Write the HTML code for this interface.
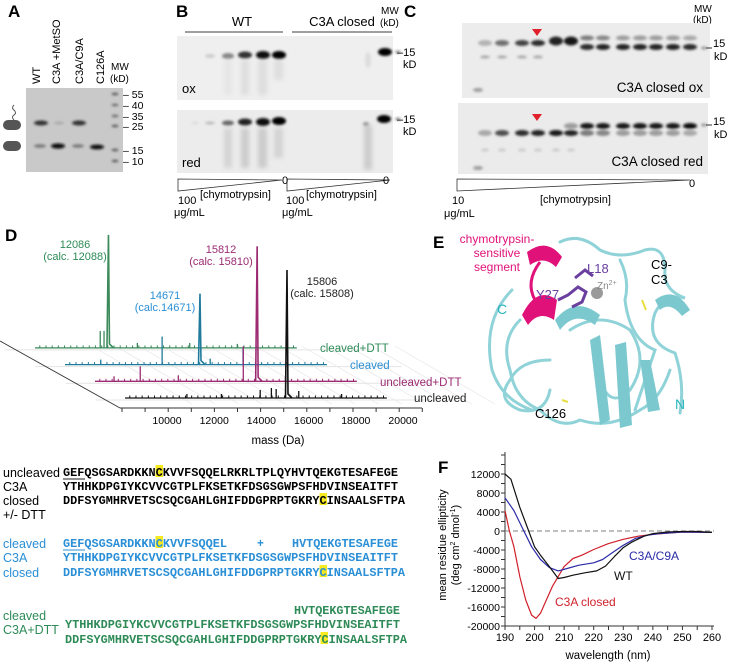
<!DOCTYPE html>
<html><head><meta charset="utf-8"><style>
html,body{margin:0;padding:0;background:#fff;}
svg{display:block;font-family:"Liberation Sans",sans-serif;}
.seq{font-family:"Liberation Mono",monospace;font-weight:bold;font-size:11.5px;}
</style></head><body>
<svg id="fig" width="740" height="664" viewBox="0 0 740 664" xmlns="http://www.w3.org/2000/svg">
<defs>
<filter id="bl" x="-50%" y="-100%" width="200%" height="300%"><feGaussianBlur stdDeviation="1.2"/></filter>
<filter id="bl2" x="-50%" y="-50%" width="200%" height="200%"><feGaussianBlur stdDeviation="2.5"/></filter>
</defs>

<!-- Panel A -->
<g>
<text x="8" y="17" font-size="17" font-weight="bold">A</text>
<g font-size="11">
<text transform="translate(40,84) rotate(-90)">WT</text>
<text transform="translate(60,84) rotate(-90)">C3A +MetSO</text>
<text transform="translate(83,84) rotate(-90)">C3A/C9A</text>
<text transform="translate(104,84) rotate(-90)">C126A</text>
<text x="111" y="70" font-size="10">MW</text>
<text x="110" y="82" font-size="10">(kD)</text>
</g>
<rect x="26" y="88" width="97" height="84" fill="#c9c9c9"/>
<g filter="url(#bl)">
<ellipse cx="41" cy="123" rx="7" ry="2.5" fill="#333"/>
<ellipse cx="79" cy="123" rx="7" ry="2.5" fill="#333"/>
<ellipse cx="59" cy="123" rx="5" ry="1.5" fill="#aaa"/>
<ellipse cx="40" cy="146" rx="6" ry="1.8" fill="#777"/>
<ellipse cx="58" cy="146" rx="7" ry="2.6" fill="#111"/>
<ellipse cx="78" cy="146" rx="6" ry="1.8" fill="#777"/>
<ellipse cx="97" cy="147" rx="7" ry="2.4" fill="#111"/>
<ellipse cx="115" cy="94" rx="3.5" ry="1.3" fill="#555"/>
<ellipse cx="115" cy="105" rx="3.5" ry="1.3" fill="#666"/>
<ellipse cx="115" cy="116" rx="3.5" ry="1.3" fill="#666"/>
<ellipse cx="115" cy="126" rx="3.5" ry="1.3" fill="#555"/>
<ellipse cx="115" cy="150" rx="3.5" ry="1.3" fill="#555"/>
<ellipse cx="115" cy="161" rx="3.5" ry="1.3" fill="#555"/>
</g>
<g font-size="10.5">
<text x="123" y="98">– 55</text><text x="123" y="109">– 40</text><text x="123" y="120">– 35</text>
<text x="123" y="130">– 25</text><text x="123" y="154">– 15</text><text x="123" y="165">– 10</text>
</g>
<g>
<rect x="3" y="120" width="18" height="10" rx="5" fill="#555"/>
<path d="M14,120 q-3,-3 0,-5 q3,-2 0,-5 q-3,-2 0,-5" stroke="#555" fill="none" stroke-width="1"/>
<rect x="3" y="141" width="18" height="10" rx="5" fill="#555"/>
</g>
</g>

<!-- Panel B -->
<g>
<text x="176" y="17" font-size="17" font-weight="bold">B</text>
<text x="242" y="26" font-size="13" text-anchor="middle">WT</text>
<line x1="185" y1="32" x2="283" y2="32" stroke="#666" stroke-width="1.2"/>
<text x="342" y="26" font-size="13" text-anchor="middle">C3A closed</text>
<line x1="292" y1="32" x2="392" y2="32" stroke="#666" stroke-width="1.2"/>
<text x="381" y="14" font-size="10">MW</text><text x="380" y="26" font-size="10">(kD)</text>
<rect x="177" y="36" width="216" height="64" fill="#efefef"/>
<rect x="177" y="110" width="216" height="63" fill="#ececec"/>
<g filter="url(#bl)">
<ellipse cx="210" cy="56" rx="5" ry="2" fill="#ccc"/>
<ellipse cx="228" cy="56" rx="6" ry="3" fill="#888"/>
<ellipse cx="245" cy="55" rx="7" ry="3.5" fill="#333"/>
<ellipse cx="263" cy="55" rx="7" ry="4" fill="#111"/>
<ellipse cx="279" cy="55" rx="7" ry="4" fill="#000"/>
<ellipse cx="385" cy="52" rx="7" ry="4" fill="#000"/>
<ellipse cx="368" cy="60" rx="3" ry="8" fill="#ddd"/>
<ellipse cx="398" cy="52" rx="3" ry="1.5" fill="#888"/>
<ellipse cx="195" cy="123" rx="4" ry="1.5" fill="#ddd"/>
<ellipse cx="210" cy="123" rx="5" ry="1.5" fill="#bbb"/>
<ellipse cx="228" cy="123" rx="6" ry="2.5" fill="#666"/>
<ellipse cx="245" cy="122" rx="7" ry="3.5" fill="#222"/>
<ellipse cx="263" cy="122" rx="7" ry="4" fill="#111"/>
<ellipse cx="279" cy="121" rx="7" ry="4" fill="#000"/>
<ellipse cx="384" cy="119" rx="7" ry="4" fill="#000"/>
<ellipse cx="366" cy="124" rx="3" ry="2" fill="#999"/>
<ellipse cx="398" cy="119" rx="3" ry="1.5" fill="#888"/>
</g>
<g filter="url(#bl2)" opacity="0.5">
<rect x="224" y="60" width="8" height="35" fill="#ddd"/><rect x="241" y="60" width="8" height="35" fill="#ccc"/>
<rect x="258" y="60" width="9" height="35" fill="#ccc"/><rect x="274" y="60" width="9" height="20" fill="#ccc"/>
<rect x="224" y="128" width="8" height="40" fill="#bbb"/><rect x="241" y="128" width="8" height="40" fill="#aaa"/>
<rect x="258" y="128" width="9" height="40" fill="#aaa"/><rect x="274" y="128" width="9" height="30" fill="#bbb"/>
<rect x="364" y="125" width="8" height="45" fill="#aaa"/>
</g>
<text x="182" y="93" font-size="13">ox</text>
<text x="182" y="167" font-size="13">red</text>
<g font-size="11"><text x="397" y="56">–15</text><text x="403" y="68">kD</text>
<text x="397" y="123">–15</text><text x="403" y="135">kD</text></g>
<path d="M178,179 L178,191 L282,180 Z" fill="none" stroke="#333" stroke-width="0.8"/>
<path d="M287,179 L287,191 L390,180 Z" fill="none" stroke="#333" stroke-width="0.8"/>
<g font-size="11">
<text x="282" y="184">0</text><text x="383" y="184">0</text>
<text x="178" y="204">100</text><text x="174" y="216">μg/mL</text>
<text x="200" y="198">[chymotrypsin]</text>
<text x="286" y="204">100</text><text x="282" y="216">μg/mL</text>
<text x="306" y="198">[chymotrypsin]</text></g>
</g>

<!-- Panel C -->
<g>
<text x="404" y="17" font-size="17" font-weight="bold">C</text>
<text x="694" y="12" font-size="10">MW</text><text x="693" y="23" font-size="10">(kD)</text>
<rect x="462" y="23" width="248" height="75" fill="#ececec"/>
<rect x="458" y="103" width="250" height="71" fill="#ebebeb"/>
<g filter="url(#bl)" id="gelc"></g>
<polygon points="532,29 542,29 537,36" fill="#e0202a"/>
<polygon points="532,114 542,114 537,121" fill="#e0202a"/>
<text x="703" y="92" font-size="13.5" text-anchor="end">C3A closed ox</text>
<text x="703" y="166" font-size="13.5" text-anchor="end">C3A closed red</text>
<g font-size="11"><text x="713" y="47">15</text><text x="714" y="60">kD</text>
<text x="713" y="125">15</text><text x="714" y="138">kD</text>
<line x1="706" y1="48" x2="712" y2="48" stroke="#333"/><line x1="706" y1="125" x2="712" y2="125" stroke="#333"/></g>
<path d="M457,179 L457,191 L690,180 Z" fill="none" stroke="#333" stroke-width="0.8"/>
<g font-size="11"><text x="689" y="187">0</text><text x="452" y="204">10</text><text x="444" y="217">μg/mL</text>
<text x="540" y="203">[chymotrypsin]</text></g>
</g>

<!-- Panel D -->
<g>
<text x="5" y="241" font-size="17" font-weight="bold">D</text>
<g id="floor" stroke="#ddd" stroke-width="0.7"></g>
<line x1="0" y1="341" x2="120" y2="408" stroke="#333" stroke-width="0.9"/>
<g id="spectra"></g>
<g id="massaxis"></g>
<text x="278" y="444" font-size="11.5" text-anchor="middle">mass (Da)</text>
<g font-size="11" text-anchor="middle">
<text x="75" y="248" fill="#2e8b57">12086</text><text x="75" y="260" fill="#2e8b57">(calc. 12088)</text>
<text x="165" y="299" fill="#2a8fd6">14671</text><text x="165" y="311" fill="#2a8fd6">(calc.14671)</text>
<text x="221" y="253" fill="#9c2b73">15812</text><text x="221" y="265" fill="#9c2b73">(calc. 15810)</text>
<text x="322" y="285" fill="#222">15806</text><text x="322" y="297" fill="#222">(calc. 15808)</text>
</g>
<g font-size="11.5">
<text x="320" y="352" fill="#2e8b57">cleaved+DTT</text>
<text x="350" y="369" fill="#2a8fd6">cleaved</text>
<text x="380" y="386" fill="#9c2b73">uncleaved+DTT</text>
<text x="414" y="402" fill="#222">uncleaved</text>
</g>
</g>

<!-- Sequences -->
<g>
<rect x="155.5" y="465" width="7.5" height="12" fill="#f5ea20"/>
<rect x="319.5" y="493" width="7.5" height="12" fill="#f5ea20"/>
<rect x="155.5" y="536" width="7.5" height="12" fill="#f5ea20"/>
<rect x="319.5" y="565" width="7.5" height="12" fill="#f5ea20"/>
<rect x="320.5" y="632" width="7.5" height="12" fill="#f5ea20"/>
<g font-size="12.5">
<text x="3" y="477">uncleaved</text><text x="3" y="491">C3A</text><text x="3" y="505">closed</text><text x="3" y="519">+/- DTT</text>
<g fill="#2a8fd6"><text x="3" y="548">cleaved</text><text x="3" y="562">C3A</text><text x="3" y="577">closed</text></g>
<g fill="#2e8b57"><text x="3" y="620">cleaved</text><text x="3" y="634">C3A+DTT</text></g>
</g>
<g class="seq">
<text x="63" y="476" textLength="335" lengthAdjust="spacingAndGlyphs">GEFQSGSARDKKNCKVVFSQQELRKRLTPLQYHVTQEKGTESAFEGE</text>
<text x="63" y="490" textLength="335" lengthAdjust="spacingAndGlyphs">YTHHKDPGIYKCVVCGTPLFKSETKFDSGSGWPSFHDVINSEAITFT</text>
<text x="63" y="504" textLength="342" lengthAdjust="spacingAndGlyphs">DDFSYGMHRVETSCSQCGAHLGHIFDDGPRPTGKRYCINSAALSFTPA</text>
<g fill="#2a8fd6">
<text x="63" y="547" textLength="164" lengthAdjust="spacingAndGlyphs">GEFQSGSARDKKNCKVVFSQQEL</text>
<text x="257" y="547">+</text>
<text x="292" y="547" textLength="106" lengthAdjust="spacingAndGlyphs">HVTQEKGTESAFEGE</text>
<text x="63" y="561" textLength="335" lengthAdjust="spacingAndGlyphs">YTHHKDPGIYKCVVCGTPLFKSETKFDSGSGWPSFHDVINSEAITFT</text>
<text x="63" y="576" textLength="342" lengthAdjust="spacingAndGlyphs">DDFSYGMHRVETSCSQCGAHLGHIFDDGPRPTGKRYCINSAALSFTPA</text></g>
<g fill="#2e8b57">
<text x="294" y="614" textLength="106" lengthAdjust="spacingAndGlyphs">HVTQEKGTESAFEGE</text>
<text x="65" y="628" textLength="335" lengthAdjust="spacingAndGlyphs">YTHHKDPGIYKCVVCGTPLFKSETKFDSGSGWPSFHDVINSEAITFT</text>
<text x="65" y="643" textLength="342" lengthAdjust="spacingAndGlyphs">DDFSYGMHRVETSCSQCGAHLGHIFDDGPRPTGKRYCINSAALSFTPA</text></g>
</g>
<line x1="63" y1="479" x2="85" y2="479" stroke="#222" stroke-width="1"/>
<line x1="63" y1="550" x2="85" y2="550" stroke="#2a8fd6" stroke-width="1"/>
</g>

<!-- Panel E -->
<g>
<text x="433" y="248" font-size="17" font-weight="bold">E</text>
<g font-size="12" fill="#e0127a" text-anchor="middle"><text x="497" y="243">chymotrypsin-</text><text x="497" y="257">sensitive</text><text x="497" y="271">segment</text></g>
<g fill="none" stroke="#8fd3d8" stroke-width="3" stroke-linecap="round">
<path d="M560,242 q20,-10 40,8 q20,10 45,0 q20,-5 20,20 q-2,20 20,28 q-20,-5 -30,15 q-10,30 20,40 q10,30 5,60"/>
<path d="M520,320 q-20,20 -10,50 q5,30 30,40 q20,20 40,10 q30,10 60,-10 q20,-10 30,-40"/>
<path d="M550,360 q-30,0 -40,20 q-15,20 10,30 q25,5 30,-20"/>
<path d="M620,260 q10,20 5,40 q5,40 30,50 q-10,30 -20,60"/>
<path d="M570,330 q30,-20 60,0 q20,30 0,60 q-20,20 -30,-10"/>
<path d="M512,290 q-30,30 -20,80 q10,30 40,40"/>
</g>
<g fill="#7cc8cf">
<polygon points="590,340 600,335 610,420 600,425"/>
<polygon points="615,345 626,342 632,425 620,428"/>
<polygon points="640,360 650,360 660,410 648,412"/>
<path d="M555,320 q20,-25 45,-5 l-5,10 q-20,-15 -35,5 z"/>
<path d="M655,300 q20,-15 35,10 l-8,6 q-12,-15 -22,-6 z"/>
</g>
<g fill="#e0127a">
<path d="M527,252 q20,-15 35,5 l-6,10 q-12,-12 -26,-2 z"/>
<path d="M522,315 q15,-30 35,-15 l-3,20 q-15,-10 -26,5 z"/>
<path d="M540,262 q-15,20 -5,38" stroke="#e0127a" stroke-width="3" fill="none"/>
</g>
<g stroke="#6a3fa0" stroke-width="3" fill="none"><path d="M575,278 l10,-8 l8,6"/><path d="M558,300 l10,-5 l10,-8 l8,5 l-4,10 l-10,5"/></g>
<circle cx="597" cy="293" r="6" fill="#9a9a9a"/>
<path d="M642,300 l4,10" stroke="#e8e040" stroke-width="2"/>
<path d="M562,400 l6,2" stroke="#e8e040" stroke-width="2"/>
<g font-size="13"><text x="587" y="273" fill="#6a3fa0">L18</text><text x="536" y="299" fill="#6a3fa0">Y27</text>
<text x="597" y="289" font-size="10" fill="#888">Zn<tspan font-size="7" dy="-4">2+</tspan></text>
<text x="651" y="269">C9-</text><text x="651" y="284">C3</text>
<text x="497" y="314" fill="#29b5bd" font-size="14">C</text>
<text x="675" y="409" fill="#29b5bd" font-size="14">N</text>
<text x="535" y="418">C126</text></g>
</g>

<!-- Panel F -->
<g>
<text x="438" y="473" font-size="17" font-weight="bold">F</text>
<g id="cd"></g>
<g font-size="11" text-anchor="middle">
<text transform="translate(446,545) rotate(-90)">mean residue ellipticity</text>
<text transform="translate(459,545) rotate(-90)">(deg cm<tspan font-size="7" dy="-4">2</tspan><tspan dy="4"> dmol</tspan><tspan font-size="7" dy="-4">-1</tspan><tspan dy="4">)</tspan></text>
</g>
<text x="608" y="659" font-size="11.5" text-anchor="middle">wavelength (nm)</text>
<text x="629" y="560" font-size="12" fill="#2b2ba8">C3A/C9A</text>
<text x="614" y="580" font-size="12" fill="#111">WT</text>
<text x="555" y="606" font-size="12" fill="#d0202a">C3A closed</text>
</g>

<script>
// ---- Panel F CD data ----
const cdTicksX = [190,200,210,220,230,240,250,260];
const cdTicksY = [12000,8000,4000,0,-4000,-8000,-12000,-16000,-20000];
const wtNm  = [190,192,195,198,200,202,205,208,210,213,217,221,224,227,230,233,237,240,245,250,255,260];
const wtVal = [12000,10900,5000,0,-3350,-5100,-7500,-10000,-9800,-9300,-8800,-8400,-7400,-5400,-3500,-2300,-1100,-550,-200,-100,-100,-300];
const c9Nm  = [190,193,196,199,202,205,208,211,215,220,223,226,230,234,238,242,250,260];
const c9Val = [7000,4300,500,-3300,-6000,-7700,-8400,-7900,-7200,-6700,-6000,-4700,-3000,-1600,-900,-550,-200,-300];
const clNm  = [190,191.5,193,195,197,199,200.5,202,204,206,208,210,213,216,220,225,230,235,240,250,260];
const clVal = [4300,0,-3300,-9600,-14500,-17700,-18400,-17300,-14500,-11700,-9600,-7500,-5800,-5100,-3900,-2650,-1750,-1100,-700,-200,-300];

// ---- Panel D spectra data ----
const rowNames = ['uncleaved','uncleaved+DTT','cleaved','cleaved+DTT'];
const rowColors = ['#111111','#9c2b73','#1f7a9c','#3a8a5a'];
const mainPeakMass = [15806,15812,14671,12086];
const mainPeakHeight = [128,135,71,113];
const minorMasses = [[14680,15150,15350,16300,11600,13050,18100],[15230,10900,12500,9800,17000],[13080,16480,10500,15100],[11740,11900,15500,13300,17500]];
const minorHeights = [[8,10,9,7,4,4,4],[35,15,6,5,5],[28,17,5,6],[17,17,5,5,4]];
const massTicks = [10000,12000,14000,16000,18000,20000];

const NS='http://www.w3.org/2000/svg';
function mk(tag, attrs, parent){const e=document.createElementNS(NS,tag);for(const k in attrs)e.setAttribute(k,attrs[k]);parent.appendChild(e);return e;}

// CD axes
const cd=document.getElementById('cd');
const fx=v=>505+(v-190)*(207/70);
const fy=v=>531-v*(95/20000);
mk('line',{x1:505,y1:452,x2:505,y2:626,stroke:'#333','stroke-width':1},cd);
mk('line',{x1:505,y1:626,x2:714,y2:626,stroke:'#333','stroke-width':1},cd);
mk('line',{x1:505,y1:fy(0),x2:714,y2:fy(0),stroke:'#999','stroke-width':1.3,'stroke-dasharray':'5,3'},cd);
for(let v=-20000;v<=16000;v+=2000){mk('line',{x1:501,y1:fy(v),x2:505,y2:fy(v),stroke:'#333'},cd);}
cdTicksY.forEach(v=>{const t=mk('text',{x:500,y:fy(v)+4,'font-size':10.5,'text-anchor':'end'},cd);t.textContent=v;

});
for(let v=190;v<=260;v+=5){mk('line',{x1:fx(v),y1:626,x2:fx(v),y2:630,stroke:'#333'},cd);}
cdTicksX.forEach(v=>{const t=mk('text',{x:fx(v),y:641,'font-size':11,'text-anchor':'middle'},cd);t.textContent=v;

});
function cdLine(nm,val,color,name){
  const p=mk('path',{d:'M'+nm.map((n,i)=>fx(n).toFixed(1)+','+fy(val[i]).toFixed(1)).join(' L'),fill:'none',stroke:color,'stroke-width':1.2,'stroke-linejoin':'round'},cd);
  
  
}
cdLine(clNm,clVal,'#d0202a','line-c3a-closed');
cdLine(c9Nm,c9Val,'#2b2ba8','line-c3a-c9a');
cdLine(wtNm,wtVal,'#111','line-wt');

// Spectra
const sp=document.getElementById('spectra');
const fl=document.getElementById('floor');
const mx=(m,r)=>287+(m-15806)*0.0238-30*r;
const by=r=>398-16.7*r;
for(let r=0;r<4;r++){mk('line',{x1:mx(8600,r)-20,y1:by(r)+2,x2:mx(20200,r)+70,y2:by(r)+2,stroke:'#e4e4e4','stroke-width':1},fl);}
for(let k=0;k<14;k++){const x=122+k*23.3;mk('line',{x1:x-30,y1:346,x2:x+70,y2:404,stroke:'#e6e6e6'},fl);}
for(let r=3;r>=0;r--){
  const y0=by(r);let d='M'+mx(9000,r)+','+y0+' L'+mx(20000,r)+','+y0;
  const g=mk('g',{stroke:rowColors[r],'stroke-width':1.3,fill:'none'},sp);
  
  
  mk('path',{d:d},g);
  for(let m=9200;m<20000;m+=260){mk('line',{x1:mx(m,r),y1:y0,x2:mx(m,r),y2:y0-2.5,'stroke-width':1},g);}
  minorMasses[r].forEach((m,i)=>{mk('line',{x1:mx(m,r),y1:y0,x2:mx(m,r),y2:y0-minorHeights[r][i]},g);});
  const px=mx(mainPeakMass[r],r);
  mk('path',{d:`M${px-1.5},${y0} L${px},${y0-mainPeakHeight[r]} L${px+1},${y0-4} L${px+5},${y0}`,'stroke-width':1.6},g);
}
const ma=document.getElementById('massaxis');
mk('line',{x1:120,y1:408,x2:422,y2:408,stroke:'#333'},ma);
for(let k=0;k<14;k++){const x=122+k*23.1;mk('line',{x1:x,y1:408,x2:x,y2:412,stroke:'#333'},ma);}
massTicks.forEach(m=>{const x=167+(m-10000)*(236/10000);const t=mk('text',{x:x,y:424,'font-size':10.5,'text-anchor':'middle'},ma);t.textContent=m;

});

// Gel C bands
const gc=document.getElementById('gelc');
const lanes=[485,502,522,538,556,571,587,603,623,640,656,673,690];
const oxTop=[0,0,0,0,0.9,0.95,0.5,0.45,0.35,0.35,0.35,0.35,0.3];
const oxMain=[0.25,0.55,0.75,0.85,0,0,0.85,0.9,0.9,0.9,0.9,0.9,0.85];
const redTop=[0,0,0,0,0,0.35,0.95,0.95,0.95,0.95,0.95,0.95,1];
const redMain=[0.3,0.7,0.85,0.9,0.95,0.9,0.5,0.45,0.35,0.35,0.35,0.35,0.3];
const g=v=>{const c=Math.round(235-v*225);return `rgb(${c},${c},${c})`;};
lanes.forEach((x,i)=>{
 if(oxTop[i])mk('ellipse',{cx:x,cy:i<6?41:38,rx:7,ry:i<6?4.5:2.5,fill:g(oxTop[i])},gc);
 if(oxMain[i])mk('ellipse',{cx:x,cy:i<6?43:47,rx:7,ry:3,fill:g(oxMain[i])},gc);
 if(i<4)mk('ellipse',{cx:x,cy:57,rx:5,ry:1.5,fill:g(0.3)},gc);
 if(redTop[i])mk('ellipse',{cx:x,cy:126,rx:7,ry:3,fill:g(redTop[i])},gc);
 if(redMain[i])mk('ellipse',{cx:x,cy:133,rx:7,ry:3,fill:g(redMain[i])},gc);
 if(i<6)mk('ellipse',{cx:x,cy:150,rx:4,ry:1.5,fill:g(0.15)},gc);
});
mk('ellipse',{cx:478,cy:90,rx:5,ry:2,fill:g(0.35)},gc);
mk('ellipse',{cx:478,cy:168,rx:5,ry:2,fill:g(0.35)},gc);
mk('ellipse',{cx:704,cy:48,rx:3,ry:1.5,fill:g(0.4)},gc);
mk('ellipse',{cx:704,cy:125,rx:3,ry:1.5,fill:g(0.4)},gc);
</script>
</svg>
</body></html>
